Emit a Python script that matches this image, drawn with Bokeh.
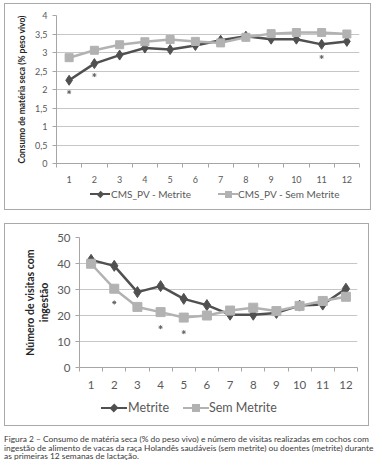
from bokeh.plotting import figure
from bokeh.models import (Range1d, FixedTicker, CustomJSTickFormatter, Div)
from bokeh.layouts import column
from bokeh.embed import file_html
from bokeh.resources import INLINE

# ---------------- data ----------------
weeks = list(range(1, 13))
week_labels = [str(w) for w in weeks]

cms_metrite = [2.25, 2.70, 2.93, 3.12, 3.08, 3.19, 3.33, 3.44, 3.36, 3.36, 3.22, 3.30]
cms_sem = [2.86, 3.06, 3.21, 3.29, 3.35, 3.30, 3.26, 3.41, 3.51, 3.54, 3.54, 3.50]
cms_sig_weeks = [1, 2, 11]
cms_sig_y = [1.93, 2.39, 2.88]
cms_yticks = [0, 0.5, 1, 1.5, 2, 2.5, 3, 3.5, 4]
cms_series = ["CMS_PV - Metrite", "CMS_PV - Sem Metrite"]

vis_metrite = [41.4, 39.1, 29.0, 31.3, 26.4, 24.0, 20.3, 20.3, 21.0, 23.8, 24.2, 30.3]
vis_sem = [39.9, 30.3, 23.3, 21.3, 19.2, 20.0, 21.9, 23.0, 21.7, 23.7, 25.6, 27.2]
vis_sig_weeks = [2, 4, 5]
vis_sig_y = [25.0, 15.5, 13.6]
vis_yticks = [0, 10, 20, 30, 40, 50]
vis_series = ["Metrite", "Sem Metrite"]

caption_lines = [
    "Figura 2 \u2013 Consumo de mat\u00e9ria seca (% do peso vivo) e n\u00famero de visitas realizadas em cochos com",
    "ingest\u00e3o de alimento de vacas da ra\u00e7a Holand\u00eas saud\u00e1veis (sem metrite) ou doentes (metrite) durante",
    "as primeiras 12 semanas de lacta\u00e7\u00e3o.",
]

FONT = "Lato"
DARK = "#505050"
LIGHT = "#b2b2b2"
AXIS = "#a6a6a6"
GRID = "#c6c6c6"
TXT = "#595959"


def make_chart(w, h, borders, ymax, yticks, ylabel, ylabel_size, tick_size,
               tick_standoff_x, ylabel_standoff, comma):
    p = figure(width=w, height=h, x_range=Range1d(0.5, 12.5),
               y_range=Range1d(0, ymax), output_backend="svg",
               toolbar_location=None,
               min_border_left=borders[0], min_border_right=borders[1],
               min_border_top=borders[2], min_border_bottom=borders[3])
    p.outline_line_color = None
    xt = FixedTicker(ticks=weeks, minor_ticks=[0.5 + i for i in range(13)])
    p.xaxis.ticker = xt
    p.xaxis.major_label_overrides = dict(zip(weeks, week_labels))
    p.xaxis.major_tick_out = 0
    p.xaxis.major_tick_in = 0
    p.xaxis.minor_tick_out = 4
    p.xaxis.minor_tick_in = 0
    p.xaxis.minor_tick_line_color = AXIS
    p.xaxis.axis_line_color = AXIS
    p.xaxis.major_label_standoff = tick_standoff_x
    yt = FixedTicker(ticks=yticks, minor_ticks=[])
    p.yaxis.ticker = yt
    if comma:
        p.yaxis.formatter = CustomJSTickFormatter(
            code="return tick.toString().replace('.', ',');")
    p.yaxis.major_tick_out = 4
    p.yaxis.major_tick_in = 0
    p.yaxis.minor_tick_out = 0
    p.yaxis.minor_tick_in = 0
    p.yaxis.major_tick_line_color = AXIS
    p.yaxis.axis_line_color = AXIS
    p.yaxis.major_label_standoff = 5
    p.yaxis.axis_label = ylabel
    p.yaxis.axis_label_standoff = ylabel_standoff
    p.yaxis.axis_label_text_font = FONT
    p.yaxis.axis_label_text_font_style = "bold"
    p.yaxis.axis_label_text_font_size = ylabel_size
    p.yaxis.axis_label_text_color = "#262626"
    for ax in (p.xaxis, p.yaxis):
        ax.major_label_text_font = FONT
        ax.major_label_text_font_size = tick_size
        ax.major_label_text_color = TXT
    p.xgrid.visible = False
    p.ygrid.ticker = yt
    p.ygrid.grid_line_color = GRID
    p.ygrid.grid_line_width = 1
    return p


def legend_div(w, h, labels, font_px, cy, line_x, line_w, text_x, dsz, ssz):
    """HTML legend: line key + marker + label for each series."""
    colors = [DARK, LIGHT]
    parts = []
    for i, lab in enumerate(labels):
        c = colors[i]
        lx = line_x[i]
        parts.append(
            f'<span style="position:absolute;left:{lx}px;top:{cy - 1.25}px;'
            f'width:{line_w}px;height:2.5px;background:{c}"></span>')
        mx = lx + line_w / 2
        if i == 0:
            parts.append(
                f'<span style="position:absolute;left:{mx - dsz / 2}px;top:{cy - dsz / 2}px;'
                f'width:{dsz}px;height:{dsz}px;background:{c};'
                f'transform:rotate(45deg) scaleY(1.1)"></span>')
        else:
            parts.append(
                f'<span style="position:absolute;left:{mx - ssz / 2}px;top:{cy - ssz / 2}px;'
                f'width:{ssz}px;height:{ssz}px;background:{c}"></span>')
        parts.append(
            f'<span style="position:absolute;left:{text_x[i]}px;top:{cy - font_px * 0.62}px;'
            f'font-family:Lato;font-size:{font_px}px;line-height:{font_px * 1.2}px;'
            f'color:{TXT};white-space:nowrap">{lab}</span>')
    html = (f'<div style="position:relative;width:{w}px;height:{h}px">'
            + "".join(parts) + "</div>")
    return Div(text=html, width=w, height=h, margin=0)


# ---------------- chart 1 ----------------
p1 = make_chart(365, 181, (51, 11, 11, 21), 4, cms_yticks,
                "Consumo de mat\u00e9ria seca (% peso vivo)", "8.5px", "9px",
                8, 5, True)
p1.line(weeks, cms_metrite, line_color=DARK, line_width=2.5)
p1.scatter(weeks, cms_metrite, marker="diamond", size=10,
           fill_color=DARK, line_color=DARK)
p1.line(weeks, cms_sem, line_color=LIGHT, line_width=2.5)
p1.scatter(weeks, cms_sem, marker="square", size=8,
           fill_color=LIGHT, line_color=LIGHT)
p1.scatter(cms_sig_weeks, cms_sig_y, marker="asterisk", size=4,
           line_color="#666666", line_width=1)
leg1 = legend_div(365, 24, cms_series, 10, 9, [85, 213], 20, [106, 233], 5, 7)

# ---------------- chart 2 ----------------
p2 = make_chart(363, 169, (74, 11, 13, 26), 50, vis_yticks,
                "N\u00famero de visitas com\ningest\u00e3o", "10.5px", "11.5px",
                9, 4, False)
p2.line(weeks, vis_metrite, line_color=DARK, line_width=2.5)
p2.scatter(weeks, vis_metrite, marker="diamond", size=11,
           fill_color=DARK, line_color=DARK)
p2.line(weeks, vis_sem, line_color=LIGHT, line_width=2.5)
p2.scatter(weeks, vis_sem, marker="square", size=9,
           fill_color=LIGHT, line_color=LIGHT)
p2.scatter(vis_sig_weeks, vis_sig_y, marker="asterisk", size=4,
           line_color="#666666", line_width=1)
leg2 = legend_div(363, 32, vis_series, 12.5, 15, [96, 178], 26, [123, 204], 6, 8)

box_style = {"border": "1px solid #a9a9a9"}
box1 = column(p1, leg1, spacing=0, styles=box_style, margin=(3, 0, 0, 4))
box2 = column(p2, leg2, spacing=0, styles=box_style, margin=(13, 0, 0, 4))

# ---------------- caption ----------------
cap = Div(text="<br>".join(caption_lines), width=378, height=26, margin=(9, 0, 0, 4),
          styles={"font-family": "Lato", "font-size": "8.4px",
                  "line-height": "8.5px", "color": "#3a3a3a",
                  "white-space": "nowrap"})

layout = column(box1, box2, cap, spacing=0)
open("out.html", "w").write(file_html(layout, INLINE))
